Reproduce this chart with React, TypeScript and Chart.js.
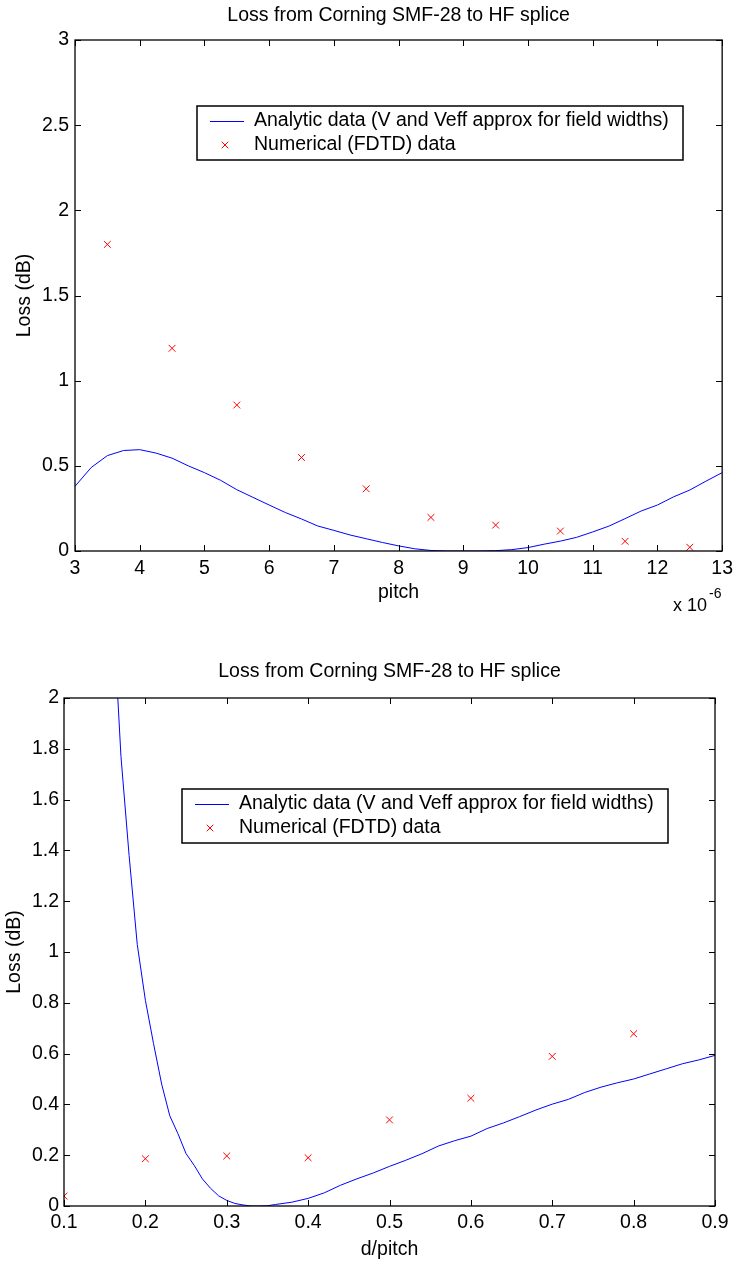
import React, { useEffect, useRef } from "react";
import { Chart, registerables } from "chart.js";

Chart.register(...registerables);

// ---------- shared text ----------
const CHART_TITLE = "Loss from Corning SMF-28 to HF splice";
const Y_TITLE = "Loss (dB)";
const LEGEND_LABELS = [
  "Analytic data (V and Veff approx for field widths)",
  "Numerical (FDTD) data",
];

// ---------- top plot: loss vs pitch (x 1e-6) ----------
const pitchAnalytic = [
  3.0, 3.25, 3.5, 3.75, 4.0, 4.25, 4.5, 4.75, 5.0, 5.25, 5.5, 5.75, 6.0, 6.25,
  6.5, 6.75, 7.0, 7.25, 7.5, 7.75, 8.0, 8.25, 8.5, 8.75, 9.0, 9.25, 9.5, 9.75,
  10.0, 10.25, 10.5, 10.75, 11.0, 11.25, 11.5, 11.75, 12.0, 12.25, 12.5, 12.75,
  13.0,
];
const lossAnalyticPitch = [
  0.38, 0.49, 0.56, 0.59, 0.595, 0.575, 0.545, 0.5, 0.46, 0.415, 0.36, 0.315,
  0.27, 0.226, 0.188, 0.147, 0.121, 0.094, 0.072, 0.05, 0.03, 0.013, 0.003, 0.0,
  0.0, 0.0, 0.002, 0.008, 0.02, 0.04, 0.058, 0.08, 0.112, 0.146, 0.19, 0.235,
  0.27, 0.318, 0.358, 0.41, 0.46,
];
const pitchFdtd = [3.5, 4.5, 5.5, 6.5, 7.5, 8.5, 9.5, 10.5, 11.5, 12.5];
const lossFdtdPitch = [1.8, 1.19, 0.857, 0.549, 0.365, 0.197, 0.152, 0.117, 0.057, 0.022];
const pitchTicks = [3, 4, 5, 6, 7, 8, 9, 10, 11, 12, 13];
const lossTicksTop = [0, 0.5, 1, 1.5, 2, 2.5, 3];
const PITCH_LABEL = "pitch";
const PITCH_EXP_BASE = "x 10";
const PITCH_EXP = "-6";

// ---------- bottom plot: loss vs d/pitch ----------
const dAnalytic = [
  0.16, 0.17, 0.18, 0.19, 0.2, 0.21, 0.22, 0.23, 0.24, 0.25, 0.26, 0.27, 0.28,
  0.29, 0.3, 0.31, 0.32, 0.33, 0.34, 0.35, 0.36, 0.38, 0.4, 0.42, 0.44, 0.46,
  0.48, 0.5, 0.52, 0.54, 0.56, 0.58, 0.6, 0.62, 0.64, 0.66, 0.68, 0.7, 0.72,
  0.74, 0.76, 0.78, 0.8, 0.82, 0.84, 0.86, 0.88, 0.9,
];
const lossAnalyticD = [
  2.36, 1.77, 1.38, 1.03, 0.81, 0.64, 0.48, 0.355, 0.285, 0.206, 0.16, 0.107,
  0.07, 0.04, 0.022, 0.01, 0.004, 0.0, 0.0, 0.001, 0.006, 0.015, 0.03, 0.052,
  0.082, 0.107, 0.13, 0.156, 0.18, 0.206, 0.236, 0.257, 0.275, 0.305, 0.327,
  0.352, 0.378, 0.401, 0.42, 0.447, 0.468, 0.485, 0.5, 0.52, 0.54, 0.56, 0.575,
  0.593,
];
const dFdtd = [0.1, 0.2, 0.3, 0.4, 0.5, 0.6, 0.7, 0.8];
const lossFdtdD = [0.039, 0.186, 0.197, 0.19, 0.339, 0.424, 0.589, 0.678];
const dTicks = [0.1, 0.2, 0.3, 0.4, 0.5, 0.6, 0.7, 0.8, 0.9];
const lossTicksBottom = [0, 0.2, 0.4, 0.6, 0.8, 1, 1.2, 1.4, 1.6, 1.8, 2];
const D_LABEL = "d/pitch";

// ---------- styling ----------
const FONT = "'Liberation Sans', Arial, Helvetica, sans-serif";
const FS = 19.5;
const BLUE = "#0000ff";
const RED = "#ff0000";

const fmt = (v: number) => String(Math.round(v * 100) / 100);

const matlabPlugin = {
  id: "matlabDecor",
  afterDraw(chart: any, _args: any, opts: any) {
    const ctx = chart.ctx as CanvasRenderingContext2D;
    const a = chart.chartArea;
    const xs = chart.scales.x;
    const ys = chart.scales.y;
    ctx.save();
    // frame
    ctx.strokeStyle = "#000";
    ctx.lineWidth = 1.3;
    ctx.strokeRect(a.left, a.top, a.right - a.left, a.bottom - a.top);
    // inward ticks
    const tl = 6;
    ctx.lineWidth = 1;
    ctx.beginPath();
    xs.ticks.forEach((t: any) => {
      const p = Math.round(xs.getPixelForValue(t.value)) + 0.5;
      ctx.moveTo(p, a.bottom);
      ctx.lineTo(p, a.bottom - tl);
      ctx.moveTo(p, a.top);
      ctx.lineTo(p, a.top + tl);
    });
    ys.ticks.forEach((t: any) => {
      const p = Math.round(ys.getPixelForValue(t.value)) + 0.5;
      ctx.moveTo(a.left, p);
      ctx.lineTo(a.left + tl, p);
      ctx.moveTo(a.right, p);
      ctx.lineTo(a.right - tl, p);
    });
    ctx.stroke();

    // title
    ctx.fillStyle = "#000";
    ctx.font = `${FS}px ${FONT}`;
    ctx.textAlign = "center";
    ctx.textBaseline = "middle";
    ctx.fillText(opts.title, (a.left + a.right) / 2, opts.titleY);

    // legend
    const L = opts.legend;
    ctx.fillStyle = "#fff";
    ctx.fillRect(L.x, L.y, L.w, L.h);
    ctx.strokeStyle = "#000";
    ctx.lineWidth = 1.5;
    ctx.strokeRect(L.x, L.y, L.w, L.h);
    const ds = chart.data.datasets;
    const r1 = L.y + 15;
    const r2 = L.y + 39;
    ctx.strokeStyle = ds[0].borderColor;
    ctx.lineWidth = 1;
    ctx.beginPath();
    ctx.moveTo(L.x + 13, r1 + 0.5);
    ctx.lineTo(L.x + 47, r1 + 0.5);
    ctx.stroke();
    ctx.strokeStyle = ds[1].borderColor;
    ctx.beginPath();
    const mx = L.x + 28;
    const m = 3.3;
    ctx.moveTo(mx - m, r2 - m);
    ctx.lineTo(mx + m, r2 + m);
    ctx.moveTo(mx - m, r2 + m);
    ctx.lineTo(mx + m, r2 - m);
    ctx.stroke();
    ctx.fillStyle = "#000";
    ctx.textAlign = "left";
    ctx.font = `${FS}px ${FONT}`;
    ctx.fillText(ds[0].label, L.x + 57, r1);
    ctx.fillText(ds[1].label, L.x + 57, r2);

    // exponent label
    if (opts.exp) {
      const E = opts.exp;
      ctx.font = `18px ${FONT}`;
      ctx.textAlign = "right";
      ctx.fillText(E.base, E.x, E.y);
      ctx.font = `14px ${FONT}`;
      ctx.textAlign = "left";
      ctx.fillText(E.sup, E.x + 2, E.y - 12);
    }
    ctx.restore();
  },
};

type PlotSpec = {
  xLine: number[];
  yLine: number[];
  xPts: number[];
  yPts: number[];
  xTicks: number[];
  yTicks: number[];
  xLabel: string;
  yAxisWidth: number;
  xAxisHeight: number;
  yTitlePad: number;
  xTitlePad: number;
  xTickPad: number;
  yTickPad: number;
  padTop: number;
  padRight: number;
  titleY: number;
  legend: { x: number; y: number; w: number; h: number };
  exp?: { base: string; sup: string; x: number; y: number };
};

function makeConfig(s: PlotSpec): any {
  return {
    type: "scatter",
    data: {
      datasets: [
        {
          label: LEGEND_LABELS[0],
          data: s.xLine.map((x, i) => ({ x, y: s.yLine[i] })),
          showLine: true,
          borderColor: BLUE,
          backgroundColor: BLUE,
          borderWidth: 1,
          pointRadius: 0,
          tension: 0,
        },
        {
          label: LEGEND_LABELS[1],
          data: s.xPts.map((x, i) => ({ x, y: s.yPts[i] })),
          showLine: false,
          borderColor: RED,
          backgroundColor: RED,
          pointStyle: "crossRot",
          pointRadius: 4.8,
          pointBorderWidth: 1,
          borderWidth: 1,
        },
      ],
    },
    options: {
      animation: false,
      responsive: false,
      maintainAspectRatio: false,
      layout: { padding: { top: s.padTop, right: s.padRight, left: 0, bottom: 0 } },
      plugins: {
        legend: { display: false },
        tooltip: { enabled: false },
        title: { display: false },
        matlabDecor: { title: CHART_TITLE, titleY: s.titleY, legend: s.legend, exp: s.exp },
      },
      scales: {
        x: {
          type: "linear",
          min: s.xTicks[0],
          max: s.xTicks[s.xTicks.length - 1],
          grid: { display: false, drawTicks: false },
          border: { display: false },
          afterBuildTicks: (sc: any) => {
            sc.ticks = s.xTicks.map((v) => ({ value: v }));
          },
          afterFit: (sc: any) => {
            sc.height = s.xAxisHeight;
          },
          ticks: {
            color: "#000",
            font: { family: FONT, size: FS },
            padding: s.xTickPad,
            maxRotation: 0,
            autoSkip: false,
            callback: (v: any) => fmt(Number(v)),
          },
          title: {
            display: true,
            text: s.xLabel,
            color: "#000",
            font: { family: FONT, size: FS },
            padding: { top: 0, bottom: s.xTitlePad },
          },
        },
        y: {
          type: "linear",
          min: s.yTicks[0],
          max: s.yTicks[s.yTicks.length - 1],
          grid: { display: false, drawTicks: false },
          border: { display: false },
          afterBuildTicks: (sc: any) => {
            sc.ticks = s.yTicks.map((v) => ({ value: v }));
          },
          afterFit: (sc: any) => {
            sc.width = s.yAxisWidth;
          },
          ticks: {
            color: "#000",
            font: { family: FONT, size: FS },
            padding: s.yTickPad,
            autoSkip: false,
            callback: (v: any) => fmt(Number(v)),
          },
          title: {
            display: true,
            text: Y_TITLE,
            color: "#000",
            font: { family: FONT, size: FS },
            padding: { top: s.yTitlePad, bottom: 0 },
          },
        },
      },
    },
    plugins: [matlabPlugin],
  };
}

const topSpec: PlotSpec = {
  xLine: pitchAnalytic,
  yLine: lossAnalyticPitch,
  xPts: pitchFdtd,
  yPts: lossFdtdPitch,
  xTicks: pitchTicks,
  yTicks: lossTicksTop,
  xLabel: PITCH_LABEL,
  yAxisWidth: 75,
  xAxisHeight: 79,
  yTitlePad: 13,
  xTitlePad: 26,
  xTickPad: 6,
  yTickPad: 6,
  padTop: 40,
  padRight: 13,
  titleY: 16,
  legend: { x: 197, y: 106, w: 486, h: 54 },
  exp: { base: PITCH_EXP_BASE, sup: PITCH_EXP, x: 707, y: 606 },
};

const bottomSpec: PlotSpec = {
  xLine: dAnalytic,
  yLine: lossAnalyticD,
  xPts: dFdtd,
  yPts: lossFdtdD,
  xTicks: dTicks,
  yTicks: lossTicksBottom,
  xLabel: D_LABEL,
  yAxisWidth: 64,
  xAxisHeight: 60,
  yTitlePad: 3,
  xTitlePad: 5,
  xTickPad: 5,
  yTickPad: 5,
  padTop: 68,
  padRight: 24,
  titleY: 42,
  legend: { x: 182, y: 159, w: 486, h: 54 },
};

function Plot({ spec, top, height }: { spec: PlotSpec; top: number; height: number }) {
  const ref = useRef<HTMLCanvasElement | null>(null);
  useEffect(() => {
    if (!ref.current) return;
    const chart = new Chart(ref.current, makeConfig(spec));
    return () => chart.destroy();
  }, [spec]);
  return (
    <canvas
      ref={ref}
      width={739}
      height={height}
      style={{ position: "absolute", left: 0, top, width: 739, height }}
    />
  );
}

export default function App() {
  return (
    <div style={{ position: "absolute", left: 0, top: 0, width: 739, height: 1266, background: "#fff" }}>
      <Plot spec={topSpec} top={0} height={630} />
      <Plot spec={bottomSpec} top={630} height={636} />
    </div>
  );
}
